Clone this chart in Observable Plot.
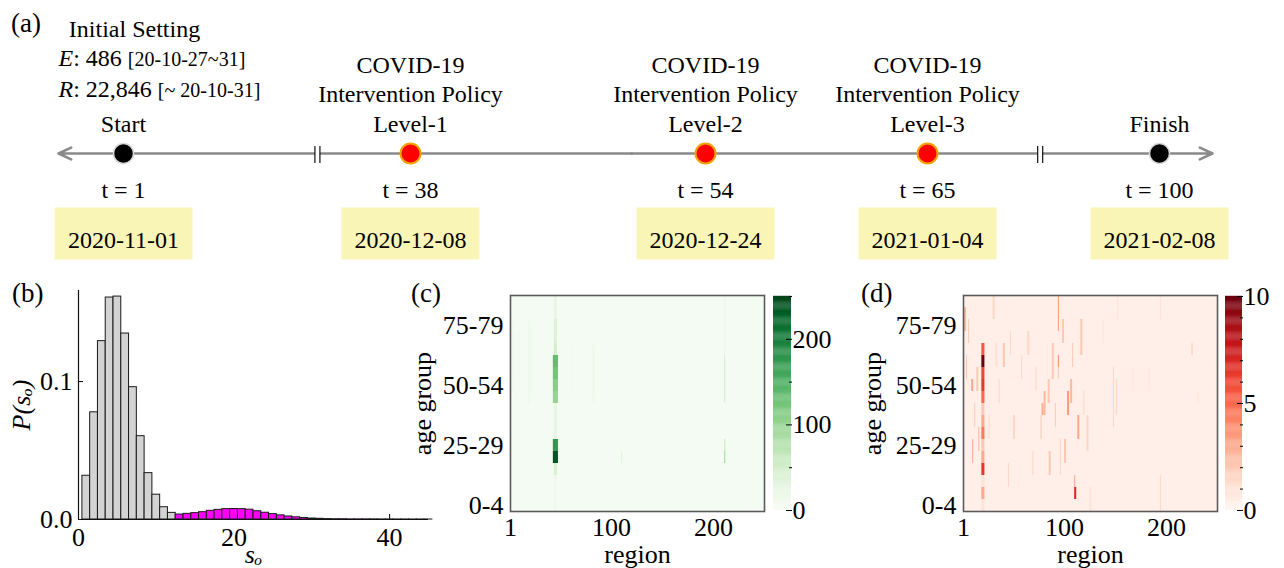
<!DOCTYPE html>
<html><head><meta charset="utf-8">
<script src="https://cdn.jsdelivr.net/npm/d3@7"></script>
<script src="https://cdn.jsdelivr.net/npm/@observablehq/plot@0.6"></script>
<style>
html,body{margin:0;padding:0;background:#fff;}
#root{position:relative;width:1284px;height:568px;overflow:hidden;font-family:"Liberation Serif","Times New Roman",serif;color:#000;}
#root svg{position:absolute;max-width:none;}
.plabel{position:absolute;font-size:27px;line-height:27px;white-space:nowrap;}
</style></head>
<body><div id="root"></div>
<script>
// ---------------- data ----------------
// (a) timeline
const eventT = [1, 38, 54, 65, 100];
const eventLabel = ["Start",
  "COVID-19\nIntervention Policy\nLevel-1",
  "COVID-19\nIntervention Policy\nLevel-2",
  "COVID-19\nIntervention Policy\nLevel-3",
  "Finish"];
const eventDate = ["2020-11-01", "2020-12-08", "2020-12-24", "2021-01-04", "2021-02-08"];
const eventKind = ["boundary", "policy", "policy", "policy", "boundary"];
const initialExposed = 486, initialExposedPeriod = "20-10-27~31";
const initialRecovered = 22846, initialRecoveredPeriod = "~ 20-10-31";

// (b) histogram P(s_o)
const histGreyS = [1, 2, 3, 4, 5, 6, 7, 8, 9, 10, 11, 12];
const histGreyP = [0.0317, 0.0777, 0.1293, 0.1609, 0.1616, 0.1348, 0.0959, 0.0604, 0.0336, 0.0180, 0.0089, 0.0048];
const histMagentaS = [13,14,15,16,17,18,19,20,21,22,23,24,25,26,27,28,29,30,31,32,33,34,35,36,37,38,39,40,41,42,43,44,45];
const histMagentaP = [0.0036,0.0041,0.0046,0.0053,0.0063,0.0070,0.0075,0.0076,0.0075,0.0071,0.0060,0.0049,0.0039,0.0030,0.0022,0.0016,0.0011,0.0007,0.0005,0.0003,0.0002,0.0002,0.0001,0.0001,0.0001,0.0001,0.00005,0.00005,0.00003,0.00003,0.00002,0.00002,0.00001];
const histXTicks = [0, 20, 40];
const histYTicks = [0, 0.1];

// (c),(d) heatmaps: age groups x regions
const ageGroups = ["0-4","5-9","10-14","15-19","20-24","25-29","30-34","35-39","40-44","45-49","50-54","55-59","60-64","65-69","70-74","75-79","80-84","85+"];
const ageTicks = [0, 5, 10, 15];
const regionTicks = [1, 100, 200];
// [regionFrom, regionTo, ageFrom, ageTo, value]
const greenBackground = 5;
const greenSegments = [
  [44,46,16,17,25],[44,46,14,15,40],[44,46,13,13,50],
  [43,47,12,12,135],[43,47,11,11,125],[43,47,10,10,110],[43,47,9,9,100],
  [44,46,6,8,28],[43,47,5,5,175],[43,47,4,4,235],[44,46,3,3,45],[44,46,0,2,12],
  [3,4,10,15,12],[6,6,9,14,10],[19,20,9,15,18],[22,22,10,14,14],[9,10,11,14,10],[60,61,10,13,10],
  [82,83,9,13,18],[86,86,10,12,10],
  [110,110,4,4,40],[150,150,8,14,8],[130,130,9,12,7],
  [211,211,13,17,20],[211,211,9,12,50],[211,211,5,5,60],[211,211,4,4,95],[219,219,3,14,8]
];
const greenTicks = [0, 100, 200];
const greenMinorTicks = [50, 150, 250];
const redBackground = 0.35;
const redSegments = [
  [19,21,13,13,5.5],[19,21,12,12,10],[19,21,11,11,6],[19,21,10,10,6.5],[19,21,9,9,5],
  [19,21,8,8,2],[19,21,7,7,3],[19,21,6,6,4.5],[19,21,5,5,2],[19,21,4,4,3],
  [19,21,3,3,6.5],[19,21,2,2,1],[19,21,1,1,3],[19,21,0,0,1],
  [110,111,1,1,7],[110,110,2,2,3],[94,94,15,17,3.5],[94,94,12,12,4],[94,94,11,11,2],
  [9,10,10,10,3],[10,10,4,5,3],[2,3,15,16,2.5],[4,4,11,12,2],[14,15,10,11,2],[16,16,5,6,2.5],
  [40,41,12,13,2],[36,36,9,10,1.5],[50,51,6,7,1.5],[78,79,8,8,3],[80,81,8,9,2.5],
  [84,85,9,10,2],[88,89,11,13,2],[77,77,6,7,2],[103,104,8,9,3.5],[106,107,9,10,2.5],
  [113,114,6,7,3],[116,117,13,15,2],[98,99,14,15,2],[64,65,13,14,1.5],[69,69,3,4,1.5],
  [85,86,3,4,2],[100,101,4,5,2],[122,123,5,7,1.5],[148,148,7,11,1.5],[151,151,8,10,1.5],[167,167,10,11,1],
  [183,183,10,11,1],[194,194,0,2,1.5],[194,194,16,17,1],[152,152,16,17,1],[225,225,13,13,2],
  [231,231,9,9,1],[30,31,16,17,1.5],[45,45,2,3,1.5],[58,58,11,12,1.5],[125,126,0,1,1],
  [6,6,14,15,2],[12,12,7,8,2],[26,26,6,7,1.5],[33,33,12,13,1.5],[47,47,13,14,1.5],
  [72,72,10,11,1.5],[91,91,7,8,2],[96,96,3,5,1.5],[108,108,12,13,2],[119,119,8,9,1.5],[138,138,14,15,1]
];
const redTicks = [0, 5, 10];
const redMinorTicks = [1,2,3,4,6,7,8,9];

// ---------------- layout ----------------
const serif = '"Liberation Serif","Times New Roman",serif';
const root = document.getElementById("root");
const baseStyle = {fontFamily: serif, fontSize: "26px", background: "transparent", overflow: "visible", color: "black"};
function place(svg, left, top) { svg.style.left = left + "px"; svg.style.top = top + "px"; root.appendChild(svg); return svg; }

// ---------------- (a) timeline ----------------
const events = eventT.map((t, i) => ({t, label: eventLabel[i], date: eventDate[i], kind: eventKind[i]}));
const lay = {labelY: 131, axisY: 153, tY: 197, boxY: 233, dateY: 247, initY: [36, 65, 96]};
const timelineEnds = [-7, 107];
const axisBreaks = [26, 82];
const initialLines = [
  ["E", ": " + d3.format(",")(initialExposed) + " ", "[" + initialExposedPeriod + "]"],
  ["R", ": " + d3.format(",")(initialRecovered) + " ", "[" + initialRecoveredPeriod + "]"]
];
const dateBox = {draw(ctx) { ctx.rect(-69, -26, 138, 52); }};
const mid = 50;
const timeline = Plot.plot({
  width: 1284, height: 270, margin: 0,
  style: {...baseStyle, fontSize: "24px"},
  x: {type: "linear", domain: [-7, 1, 38, 54, 65, 100, 107], range: [58, 123, 410, 705, 927, 1159, 1212], axis: null},
  y: {type: "identity", axis: null},
  marks: [
    Plot.arrow(timelineEnds, {x1: () => mid, x2: d => d, y1: lay.axisY, y2: lay.axisY, stroke: "#8a8a8a", strokeWidth: 2.5, headLength: 8.4, headAngle: 50}),
    Plot.ruleX(axisBreaks, {x: d => d, y1: 145, y2: 163, stroke: "white", strokeWidth: 5}),
    Plot.ruleX(axisBreaks, {x: d => d, y1: 146, y2: 163, stroke: "#111", strokeWidth: 1.2, dx: -2.5}),
    Plot.ruleX(axisBreaks, {x: d => d, y1: 146, y2: 163, stroke: "#111", strokeWidth: 1.2, dx: 2.5}),
    Plot.dot(events.filter(d => d.kind === "boundary"), {x: "t", y: lay.axisY, r: 10, fill: "#000", stroke: "#d6d6d6", strokeWidth: 1.5}),
    Plot.dot(events.filter(d => d.kind === "policy"), {x: "t", y: lay.axisY, r: 10, fill: "#ff0000", stroke: "#f4a300", strokeWidth: 2}),
    Plot.text(events, {x: "t", y: lay.labelY, text: "label", lineAnchor: "bottom", lineHeight: 1.21, fontSize: 24}),
    Plot.text(events, {x: "t", y: lay.tY, text: d => `t = ${d.t}`, lineAnchor: "bottom", fontSize: 24}),
    Plot.dot(events, {x: "t", y: lay.boxY, symbol: dateBox, fill: "#f9f5b7", stroke: "none"}),
    Plot.text(events, {x: "t", y: lay.dateY, text: "date", lineAnchor: "bottom", fontSize: 24}),
    Plot.text(["Initial Setting"], {x: () => eventT[0], dx: 11, y: lay.initY[0], text: d => d, lineAnchor: "bottom", fontSize: 24}),
    Plot.text(initialLines, {x: () => eventT[0], dx: -65, y: (d, i) => lay.initY[i + 1], text: d => d.join(""), textAnchor: "start", lineAnchor: "bottom", fontSize: 24})
  ]
});
timeline.querySelectorAll("text").forEach(el => {
  const line = initialLines.find(l => el.textContent === l.join(""));
  if (!line) return;
  el.textContent = "";
  const add = (s, attrs) => {
    const t = document.createElementNS("http://www.w3.org/2000/svg", "tspan");
    t.textContent = s; for (const k in attrs) t.setAttribute(k, attrs[k]); el.appendChild(t);
  };
  add(line[0], {"font-style": "italic"}); add(line[1], {}); add(line[2], {"font-size": "20px"});
});
place(timeline, 0, 0);

// ---------------- (b) histogram ----------------
const greyBins = histGreyS.map((s, i) => ({s, p: histGreyP[i]}));
const magentaBins = histMagentaS.map((s, i) => ({s, p: histMagentaP[i]}));
const hist = Plot.plot({
  width: 440, height: 288, marginLeft: 78, marginRight: 12, marginTop: 10, marginBottom: 49,
  style: baseStyle,
  x: {domain: [0, 45], ticks: histXTicks, tickSize: -5, tickPadding: 13, label: "sₒ", labelArrow: "none", labelAnchor: "center", labelOffset: 43},
  y: {domain: [0, 0.166], ticks: histYTicks, tickFormat: ".1f", tickSize: -5, tickPadding: 11, label: "P(sₒ)", labelArrow: "none", labelAnchor: "center", labelOffset: 67},
  marks: [
    Plot.rect(greyBins, {x1: d => d.s - 0.5, x2: d => d.s + 0.5, y1: 0, y2: "p", fill: "#d3d3d3", stroke: "#1a1a1a", strokeWidth: 1}),
    Plot.rect(magentaBins, {x1: d => d.s - 0.5, x2: d => d.s + 0.5, y1: 0, y2: "p", fill: "#ff00ff", stroke: "#1a1a1a", strokeWidth: 1}),
    Plot.ruleX([0], {stroke: "#111", strokeWidth: 1.2}),
    Plot.ruleY([0], {stroke: "#111", strokeWidth: 1.2})
  ]
});
hist.querySelectorAll('[aria-label$="axis label"]').forEach(g => g.setAttribute("font-style", "italic"));
place(hist, 0, 280);

// ---------------- (c),(d) heatmaps ----------------
function heatmap(segments, {scheme, interp, max, background, marginLeft}) {
  return Plot.plot({
    width: 420, height: 288, marginLeft, marginRight: 420 - marginLeft - 254, marginTop: 15, marginBottom: 57,
    style: baseStyle,
    x: {domain: [1, 250], ticks: regionTicks, tickSize: -5, tickPadding: 11, label: "region", labelArrow: "none", labelAnchor: "center", labelOffset: 51},
    y: {domain: [-0.5, 17.5], ticks: ageTicks, tickFormat: i => ageGroups[i], tickSize: -5, tickPadding: 12, label: "age group", labelArrow: "none", labelAnchor: "center", labelOffset: marginLeft - 12},
    color: {type: "linear", scheme, domain: [0, max]},
    marks: [
      Plot.frame({fill: interp(background / max), stroke: "none"}),
      Plot.rect(segments, {x1: d => d[0], x2: d => d[1] + 1, y1: d => d[2] - 0.5, y2: d => d[3] + 0.5, fill: d => d[4]}),
      Plot.frame({stroke: "#5a5a5a", strokeWidth: 1.6})
    ]
  });
}
function colorbar({scheme, max, ticks, minor, barWidth, width}) {
  const n = 200;
  const slices = d3.range(n).map(i => i * max / n);
  return Plot.plot({
    width, height: 288, marginLeft: 0, marginRight: width - barWidth, marginTop: 16, marginBottom: 58,
    style: baseStyle,
    y: {domain: [0, max], axis: null},
    color: {type: "linear", scheme, domain: [0, max]},
    marks: [
      Plot.rect(slices, {y1: d => d, y2: d => d + max / n + max / 1000, fill: d => d + max / (2 * n)}),
      Plot.axisY(minor, {anchor: "right", tickSize: -3, tickFormat: () => ""}),
      Plot.axisY(ticks, {anchor: "right", tickSize: -6, tickPadding: 7})
    ]
  });
}
place(heatmap(greenSegments, {scheme: "greens", interp: d3.interpolateGreens, max: 250, background: greenBackground, marginLeft: 110}), 400, 280);
place(heatmap(redSegments, {scheme: "reds", interp: d3.interpolateReds, max: 10, background: redBackground, marginLeft: 113}), 850, 280);
place(colorbar({scheme: "greens", max: 250, ticks: greenTicks, minor: greenMinorTicks, barWidth: 18, width: 70}), 773, 280);
place(colorbar({scheme: "reds", max: 10, ticks: redTicks, minor: redMinorTicks, barWidth: 17, width: 59}), 1225, 280);

// panel letters
[["(a)", 11, 10], ["(b)", 12, 280], ["(c)", 411, 280], ["(d)", 861, 280]].forEach(([s, x, y]) => {
  const d = document.createElement("div"); d.className = "plabel"; d.textContent = s;
  d.style.left = x + "px"; d.style.top = y + "px"; root.appendChild(d);
});
</script></body></html>
